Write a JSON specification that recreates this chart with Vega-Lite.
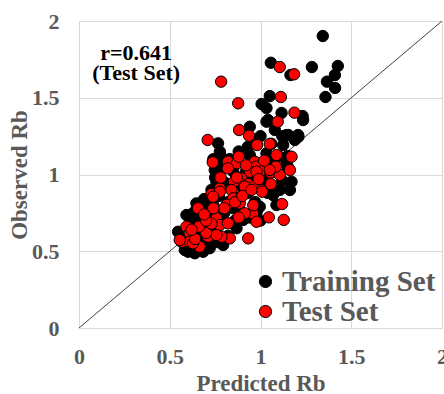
{
  "$schema": "https://vega.github.io/schema/vega-lite/v6.json",
  "width": 363,
  "height": 307,
  "autosize": {"type": "none"},
  "padding": {"left": 79, "top": 21, "right": 2, "bottom": 66},
  "background": "white",
  "config": {
    "view": {"stroke": null},
    "text": {"font": "Liberation Serif", "fontWeight": "bold"},
    "axis": {
      "labelFont": "Liberation Serif", "labelFontWeight": "bold", "labelFontSize": 22, "labelColor": "#595959",
      "titleFont": "Liberation Serif", "titleFontWeight": "bold", "titleFontSize": 23, "titleColor": "#595959",
      "ticks": false, "domain": false, "gridColor": "#d9d9d9", "gridWidth": 1, "labelFlush": false, "labelOverlap": false
    },
    "legend": {
      "labelFont": "Liberation Serif", "labelFontWeight": "bold", "labelFontSize": 29, "labelColor": "#595959"
    }
  },
  "datasets": {
    "diag": [{"x": 0, "y": 0}, {"x": 2, "y": 2}],
    "notes": [{"x": 0.315, "y": 1.746, "label": "r=0.641"}, {"x": 0.315, "y": 1.615, "label": "(Test Set)"}],
    "pts": [
      {"set": "Training Set", "x": 1.343, "y": 1.902},
      {"set": "Training Set", "x": 1.057, "y": 1.728},
      {"set": "Training Set", "x": 1.283, "y": 1.700},
      {"set": "Training Set", "x": 1.426, "y": 1.707},
      {"set": "Training Set", "x": 1.410, "y": 1.648},
      {"set": "Training Set", "x": 1.366, "y": 1.605},
      {"set": "Training Set", "x": 1.411, "y": 1.564},
      {"set": "Training Set", "x": 1.358, "y": 1.505},
      {"set": "Training Set", "x": 1.165, "y": 1.648},
      {"set": "Training Set", "x": 1.051, "y": 1.511},
      {"set": "Training Set", "x": 1.006, "y": 1.459},
      {"set": "Training Set", "x": 1.033, "y": 1.433},
      {"set": "Training Set", "x": 1.116, "y": 1.401},
      {"set": "Training Set", "x": 1.232, "y": 1.381},
      {"set": "Training Set", "x": 1.042, "y": 1.355},
      {"set": "Training Set", "x": 0.941, "y": 1.311},
      {"set": "Training Set", "x": 1.033, "y": 1.344},
      {"set": "Training Set", "x": 1.143, "y": 1.257},
      {"set": "Training Set", "x": 1.207, "y": 1.257},
      {"set": "Training Set", "x": 1.235, "y": 1.355},
      {"set": "Training Set", "x": 1.125, "y": 1.192},
      {"set": "Training Set", "x": 0.766, "y": 1.203},
      {"set": "Training Set", "x": 0.776, "y": 1.149},
      {"set": "Training Set", "x": 0.748, "y": 1.029},
      {"set": "Training Set", "x": 0.757, "y": 0.953},
      {"set": "Training Set", "x": 1.143, "y": 1.073},
      {"set": "Training Set", "x": 1.171, "y": 0.953},
      {"set": "Training Set", "x": 1.106, "y": 0.899},
      {"set": "Training Set", "x": 0.895, "y": 1.138},
      {"set": "Training Set", "x": 1.033, "y": 1.138},
      {"set": "Training Set", "x": 0.941, "y": 1.127},
      {"set": "Training Set", "x": 0.647, "y": 0.812},
      {"set": "Training Set", "x": 0.592, "y": 0.736},
      {"set": "Training Set", "x": 0.601, "y": 0.497},
      {"set": "Training Set", "x": 0.684, "y": 0.497},
      {"set": "Training Set", "x": 0.794, "y": 0.541},
      {"set": "Training Set", "x": 0.868, "y": 0.650},
      {"set": "Training Set", "x": 0.904, "y": 0.704},
      {"set": "Training Set", "x": 1.069, "y": 0.866},
      {"set": "Training Set", "x": 1.088, "y": 0.801},
      {"set": "Training Set", "x": 0.996, "y": 0.790},
      {"set": "Training Set", "x": 0.702, "y": 0.736},
      {"set": "Training Set", "x": 0.546, "y": 0.627},
      {"set": "Training Set", "x": 0.583, "y": 0.508},
      {"set": "Training Set", "x": 0.638, "y": 0.487},
      {"set": "Training Set", "x": 1.162, "y": 0.899},
      {"set": "Training Set", "x": 1.209, "y": 1.246},
      {"set": "Training Set", "x": 1.154, "y": 1.257},
      {"set": "Training Set", "x": 1.189, "y": 1.225},
      {"set": "Training Set", "x": 1.079, "y": 1.290},
      {"set": "Training Set", "x": 0.62, "y": 0.60},
      {"set": "Training Set", "x": 0.65, "y": 0.62},
      {"set": "Training Set", "x": 0.68, "y": 0.58},
      {"set": "Training Set", "x": 0.70, "y": 0.65},
      {"set": "Training Set", "x": 0.72, "y": 0.70},
      {"set": "Training Set", "x": 0.66, "y": 0.70},
      {"set": "Training Set", "x": 0.75, "y": 0.62},
      {"set": "Training Set", "x": 0.78, "y": 0.68},
      {"set": "Training Set", "x": 0.80, "y": 0.75},
      {"set": "Training Set", "x": 0.74, "y": 0.80},
      {"set": "Training Set", "x": 0.77, "y": 0.86},
      {"set": "Training Set", "x": 0.82, "y": 0.82},
      {"set": "Training Set", "x": 0.85, "y": 0.78},
      {"set": "Training Set", "x": 0.88, "y": 0.85},
      {"set": "Training Set", "x": 0.84, "y": 0.92},
      {"set": "Training Set", "x": 0.80, "y": 0.95},
      {"set": "Training Set", "x": 0.90, "y": 0.92},
      {"set": "Training Set", "x": 0.93, "y": 0.88},
      {"set": "Training Set", "x": 0.95, "y": 0.98},
      {"set": "Training Set", "x": 0.92, "y": 1.02},
      {"set": "Training Set", "x": 0.98, "y": 1.05},
      {"set": "Training Set", "x": 1.00, "y": 0.95},
      {"set": "Training Set", "x": 1.02, "y": 1.00},
      {"set": "Training Set", "x": 1.05, "y": 1.08},
      {"set": "Training Set", "x": 1.08, "y": 1.02},
      {"set": "Training Set", "x": 1.10, "y": 1.12},
      {"set": "Training Set", "x": 1.12, "y": 0.96},
      {"set": "Training Set", "x": 1.15, "y": 1.05},
      {"set": "Training Set", "x": 1.04, "y": 0.88},
      {"set": "Training Set", "x": 0.97, "y": 0.82},
      {"set": "Training Set", "x": 0.90, "y": 0.75},
      {"set": "Training Set", "x": 0.86, "y": 0.70},
      {"set": "Training Set", "x": 0.70, "y": 0.55},
      {"set": "Training Set", "x": 0.58, "y": 0.55},
      {"set": "Training Set", "x": 0.64, "y": 0.52},
      {"set": "Training Set", "x": 0.76, "y": 0.56},
      {"set": "Training Set", "x": 0.82, "y": 0.60},
      {"set": "Training Set", "x": 0.94, "y": 0.72},
      {"set": "Training Set", "x": 0.98, "y": 0.76},
      {"set": "Training Set", "x": 1.00, "y": 0.70},
      {"set": "Training Set", "x": 0.60, "y": 0.66},
      {"set": "Training Set", "x": 0.63, "y": 0.75},
      {"set": "Training Set", "x": 0.69, "y": 0.84},
      {"set": "Training Set", "x": 0.73, "y": 0.90},
      {"set": "Training Set", "x": 0.75, "y": 0.98},
      {"set": "Training Set", "x": 0.79, "y": 1.05},
      {"set": "Training Set", "x": 0.83, "y": 1.10},
      {"set": "Training Set", "x": 0.88, "y": 1.15},
      {"set": "Training Set", "x": 0.93, "y": 1.18},
      {"set": "Training Set", "x": 0.97, "y": 1.22},
      {"set": "Training Set", "x": 1.00, "y": 1.25},
      {"set": "Training Set", "x": 1.06, "y": 1.20},
      {"set": "Training Set", "x": 1.12, "y": 1.25},
      {"set": "Training Set", "x": 1.15, "y": 1.12},
      {"set": "Training Set", "x": 0.78, "y": 1.12},
      {"set": "Training Set", "x": 0.74, "y": 1.10},
      {"set": "Training Set", "x": 0.85, "y": 1.02},
      {"set": "Training Set", "x": 0.68, "y": 0.78},
      {"set": "Training Set", "x": 0.73, "y": 0.75},
      {"set": "Training Set", "x": 0.57, "y": 0.58},
      {"set": "Training Set", "x": 0.61, "y": 0.53},
      {"set": "Training Set", "x": 0.67, "y": 0.55},
      {"set": "Training Set", "x": 0.72, "y": 0.52},
      {"set": "Training Set", "x": 0.66, "y": 0.60},
      {"set": "Training Set", "x": 0.71, "y": 0.60},
      {"set": "Training Set", "x": 0.63, "y": 0.68},
      {"set": "Training Set", "x": 0.67, "y": 0.73},
      {"set": "Training Set", "x": 0.65, "y": 0.78},
      {"set": "Training Set", "x": 0.71, "y": 0.79},
      {"set": "Test Set", "x": 0.783, "y": 1.605},
      {"set": "Test Set", "x": 1.106, "y": 1.700},
      {"set": "Test Set", "x": 1.185, "y": 1.653},
      {"set": "Test Set", "x": 0.877, "y": 1.464},
      {"set": "Test Set", "x": 1.112, "y": 1.505},
      {"set": "Test Set", "x": 1.187, "y": 1.403},
      {"set": "Test Set", "x": 1.095, "y": 1.344},
      {"set": "Test Set", "x": 0.882, "y": 1.290},
      {"set": "Test Set", "x": 0.937, "y": 1.253},
      {"set": "Test Set", "x": 0.709, "y": 1.225},
      {"set": "Test Set", "x": 0.981, "y": 1.192},
      {"set": "Test Set", "x": 1.051, "y": 1.199},
      {"set": "Test Set", "x": 0.737, "y": 1.079},
      {"set": "Test Set", "x": 0.821, "y": 1.083},
      {"set": "Test Set", "x": 0.871, "y": 1.073},
      {"set": "Test Set", "x": 0.880, "y": 1.116},
      {"set": "Test Set", "x": 0.969, "y": 1.083},
      {"set": "Test Set", "x": 0.978, "y": 1.051},
      {"set": "Test Set", "x": 0.941, "y": 1.018},
      {"set": "Test Set", "x": 1.014, "y": 1.029},
      {"set": "Test Set", "x": 1.055, "y": 1.012},
      {"set": "Test Set", "x": 1.088, "y": 1.127},
      {"set": "Test Set", "x": 1.106, "y": 0.997},
      {"set": "Test Set", "x": 1.084, "y": 1.051},
      {"set": "Test Set", "x": 1.171, "y": 1.116},
      {"set": "Test Set", "x": 1.162, "y": 1.029},
      {"set": "Test Set", "x": 0.895, "y": 0.975},
      {"set": "Test Set", "x": 0.854, "y": 0.953},
      {"set": "Test Set", "x": 0.932, "y": 0.938},
      {"set": "Test Set", "x": 0.965, "y": 0.921},
      {"set": "Test Set", "x": 1.057, "y": 0.938},
      {"set": "Test Set", "x": 0.776, "y": 0.910},
      {"set": "Test Set", "x": 0.840, "y": 0.899},
      {"set": "Test Set", "x": 1.006, "y": 0.899},
      {"set": "Test Set", "x": 0.730, "y": 0.873},
      {"set": "Test Set", "x": 0.776, "y": 0.888},
      {"set": "Test Set", "x": 0.849, "y": 0.845},
      {"set": "Test Set", "x": 0.739, "y": 0.855},
      {"set": "Test Set", "x": 0.813, "y": 0.801},
      {"set": "Test Set", "x": 0.886, "y": 0.812},
      {"set": "Test Set", "x": 0.656, "y": 0.780},
      {"set": "Test Set", "x": 0.959, "y": 0.747},
      {"set": "Test Set", "x": 0.913, "y": 0.747},
      {"set": "Test Set", "x": 0.978, "y": 0.692},
      {"set": "Test Set", "x": 1.046, "y": 0.721},
      {"set": "Test Set", "x": 1.119, "y": 0.808},
      {"set": "Test Set", "x": 1.128, "y": 0.704},
      {"set": "Test Set", "x": 1.009, "y": 0.888},
      {"set": "Test Set", "x": 0.932, "y": 0.584},
      {"set": "Test Set", "x": 0.831, "y": 0.584},
      {"set": "Test Set", "x": 0.757, "y": 0.715},
      {"set": "Test Set", "x": 0.776, "y": 0.671},
      {"set": "Test Set", "x": 0.675, "y": 0.660},
      {"set": "Test Set", "x": 0.592, "y": 0.660},
      {"set": "Test Set", "x": 0.610, "y": 0.617},
      {"set": "Test Set", "x": 0.711, "y": 0.595},
      {"set": "Test Set", "x": 0.785, "y": 0.595},
      {"set": "Test Set", "x": 0.565, "y": 0.562},
      {"set": "Test Set", "x": 0.610, "y": 0.562},
      {"set": "Test Set", "x": 0.665, "y": 0.530},
      {"set": "Test Set", "x": 0.555, "y": 0.573},
      {"set": "Test Set", "x": 0.628, "y": 0.552},
      {"set": "Test Set", "x": 0.757, "y": 0.606},
      {"set": "Test Set", "x": 0.821, "y": 0.682},
      {"set": "Test Set", "x": 0.913, "y": 0.921},
      {"set": "Test Set", "x": 0.978, "y": 1.018},
      {"set": "Test Set", "x": 1.051, "y": 1.029},
      {"set": "Test Set", "x": 0.70, "y": 0.62},
      {"set": "Test Set", "x": 0.66, "y": 0.66},
      {"set": "Test Set", "x": 0.73, "y": 0.68},
      {"set": "Test Set", "x": 0.64, "y": 0.58},
      {"set": "Test Set", "x": 0.80, "y": 0.78},
      {"set": "Test Set", "x": 0.86, "y": 0.82},
      {"set": "Test Set", "x": 0.90, "y": 0.86},
      {"set": "Test Set", "x": 0.95, "y": 0.90},
      {"set": "Test Set", "x": 0.99, "y": 0.97},
      {"set": "Test Set", "x": 0.92, "y": 1.06},
      {"set": "Test Set", "x": 1.02, "y": 1.09},
      {"set": "Test Set", "x": 0.87, "y": 0.98},
      {"set": "Test Set", "x": 0.78, "y": 0.98},
      {"set": "Test Set", "x": 0.82, "y": 1.04},
      {"set": "Test Set", "x": 0.70, "y": 0.70},
      {"set": "Test Set", "x": 0.62, "y": 0.64},
      {"set": "Test Set", "x": 0.69, "y": 0.74},
      {"set": "Test Set", "x": 0.74, "y": 0.78},
      {"set": "Test Set", "x": 0.96, "y": 0.80},
      {"set": "Test Set", "x": 0.88, "y": 0.72}
    ]
  },
  "layer": [
    {
      "data": {"name": "diag"},
      "mark": {"type": "line", "color": "#404040", "strokeWidth": 1},
      "encoding": {
        "x": {"field": "x", "type": "quantitative", "scale": {"domain": [0, 2], "nice": false},
              "axis": {"title": "Predicted Rb", "values": [0, 0.5, 1, 1.5, 2], "format": "~g", "labelPadding": 18, "titlePadding": 5}},
        "y": {"field": "y", "type": "quantitative", "scale": {"domain": [0, 2], "nice": false},
              "axis": {"title": "Observed  Rb", "values": [0, 0.5, 1, 1.5, 2], "format": "~g", "labelPadding": 20, "titlePadding": 0}}
      }
    },
    {
      "data": {"name": "pts"},
      "mark": {"type": "point", "shape": "circle", "filled": true, "size": 130, "stroke": "black", "strokeWidth": 1, "opacity": 1},
      "encoding": {
        "x": {"field": "x", "type": "quantitative"},
        "y": {"field": "y", "type": "quantitative"},
        "color": {"field": "set", "type": "nominal",
                  "scale": {"domain": ["Training Set", "Test Set"], "range": ["#000000", "#ff0000"]},
                  "legend": {"title": null, "orient": "none", "legendX": 172, "legendY": 246, "symbolType": "circle",
                             "symbolSize": 150, "symbolStrokeColor": "black", "symbolStrokeWidth": 1, "symbolOpacity": 1,
                             "labelOffset": 2, "rowPadding": -1}}
      }
    },
    {
      "data": {"name": "notes"},
      "mark": {"type": "text", "font": "Liberation Serif", "fontWeight": "bold", "fontSize": 22, "color": "black", "align": "center", "baseline": "alphabetic"},
      "encoding": {
        "x": {"field": "x", "type": "quantitative"},
        "y": {"field": "y", "type": "quantitative"},
        "text": {"field": "label"}
      }
    }
  ]
}
